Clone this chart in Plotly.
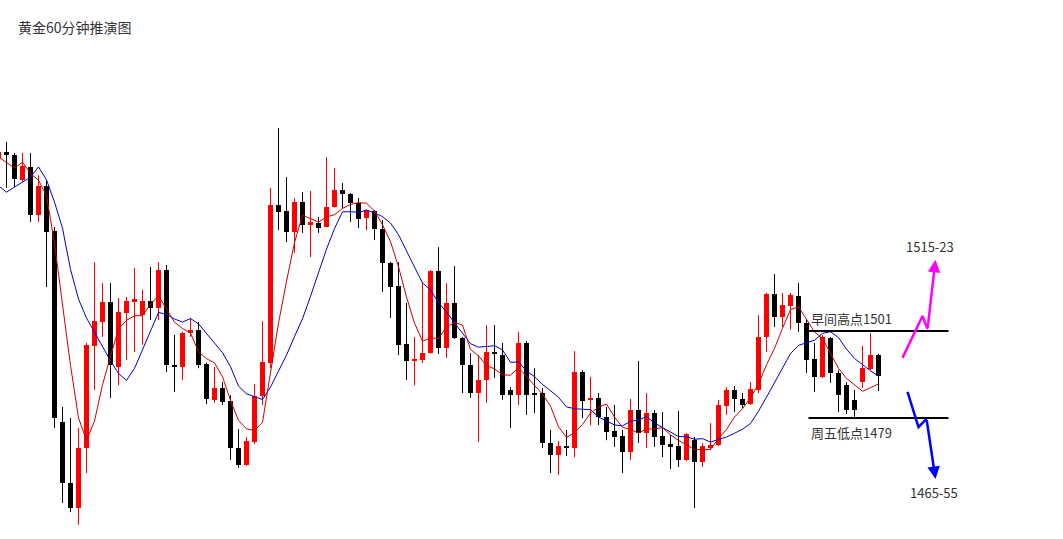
import numpy as np
import pandas as pd
import plotly.graph_objects as go

# ---------------- data (prices) ----------------
bar_index = list(range(-1, 110))

open_ = [1544.7, 1546.3, 1545.5, 1539.2, 1542.5, 1530.3, 1537.7, 1526.3, 1478.0, 1462.6,
         1456.2, 1471.4, 1497.2, 1503.3, 1508.3, 1491.9, 1505.6, 1508.3, 1505.0, 1508.6,
         1506.8, 1516.4, 1492.3, 1491.9, 1500.5, 1501.3, 1492.7, 1483.6, 1486.6, 1483.3,
         1471.4, 1467.1, 1472.9, 1484.6, 1492.9, 1532.9, 1531.3, 1526.0, 1533.6, 1528.0,
         1528.3, 1527.3, 1532.4, 1536.6, 1535.6, 1533.4, 1529.6, 1531.3, 1526.8, 1518.2,
         1512.4, 1497.7, 1493.5, 1493.7, 1495.4, 1516.2, 1496.7, 1508.1, 1499.2, 1492.4,
         1485.3, 1488.6, 1495.7, 1494.9, 1486.1, 1484.8, 1498.0, 1485.2, 1485.3, 1472.7,
         1469.6, 1471.8, 1471.4, 1490.6, 1483.6, 1484.1, 1479.3, 1475.7, 1474.5, 1470.4,
         1481.0, 1475.2, 1480.3, 1474.5, 1472.4, 1471.9, 1468.4, 1473.4, 1467.9, 1471.4,
         1472.2, 1482.0, 1486.1, 1483.8, 1482.5, 1486.1, 1499.5, 1510.4, 1504.5, 1507.3,
         1509.8, 1503.0, 1493.9, 1489.4, 1499.2, 1490.4, 1487.3, 1483.6, 1488.1, 1491.4,
         1494.9]
high = [1548.0, 1548.8, 1546.0, 1546.0, 1546.0, 1540.4, 1539.2, 1527.3, 1481.8, 1479.0,
        1476.5, 1498.0, 1518.4, 1513.1, 1513.1, 1509.3, 1509.6, 1516.9, 1511.4, 1517.2,
        1518.4, 1517.7, 1500.0, 1500.8, 1504.3, 1503.3, 1493.0, 1491.9, 1488.1, 1484.8,
        1476.2, 1474.2, 1487.6, 1503.5, 1537.2, 1552.3, 1539.9, 1534.6, 1536.1, 1536.4,
        1529.8, 1545.0, 1542.2, 1538.4, 1535.9, 1534.6, 1531.7, 1531.6, 1529.1, 1518.5,
        1518.4, 1508.1, 1499.5, 1513.4, 1516.4, 1522.2, 1513.1, 1517.4, 1499.5, 1495.4,
        1494.9, 1502.5, 1502.5, 1498.0, 1486.8, 1500.8, 1498.5, 1491.6, 1486.6, 1476.0,
        1473.2, 1476.0, 1495.9, 1491.1, 1489.4, 1485.3, 1481.8, 1482.3, 1476.0, 1483.8,
        1493.4, 1485.3, 1481.0, 1480.5, 1474.7, 1480.8, 1475.2, 1474.2, 1472.7, 1477.7,
        1483.6, 1486.8, 1487.1, 1485.3, 1488.1, 1505.0, 1510.6, 1515.4, 1510.6, 1510.6,
        1513.1, 1504.0, 1498.0, 1500.0, 1499.5, 1491.1, 1488.1, 1486.1, 1497.2, 1500.5,
        1495.2]
low = [1543.0, 1537.2, 1537.4, 1538.7, 1528.6, 1528.6, 1512.1, 1476.5, 1457.5, 1455.2,
       1452.0, 1465.1, 1486.1, 1499.5, 1484.1, 1487.3, 1493.7, 1495.7, 1497.5, 1503.8,
       1503.8, 1490.6, 1485.6, 1488.6, 1499.5, 1491.6, 1482.5, 1482.8, 1482.3, 1468.4,
       1466.4, 1466.9, 1472.4, 1482.3, 1491.6, 1526.5, 1523.5, 1520.7, 1525.8, 1519.7,
       1525.8, 1527.2, 1532.2, 1532.1, 1528.6, 1527.0, 1526.5, 1524.0, 1510.9, 1504.3,
       1494.9, 1488.6, 1487.3, 1492.9, 1495.3, 1495.2, 1494.2, 1499.0, 1485.3, 1484.1,
       1472.9, 1482.8, 1489.1, 1483.6, 1476.5, 1482.3, 1479.8, 1480.3, 1471.4, 1465.1,
       1464.6, 1469.4, 1469.1, 1479.0, 1477.2, 1477.2, 1473.4, 1471.7, 1465.1, 1468.4,
       1472.7, 1471.4, 1471.7, 1469.1, 1466.1, 1466.6, 1468.1, 1456.2, 1466.6, 1470.9,
       1471.9, 1479.8, 1480.5, 1481.5, 1482.3, 1485.3, 1495.7, 1502.0, 1502.0, 1501.3,
       1500.8, 1490.4, 1485.6, 1489.1, 1487.9, 1480.5, 1480.0, 1479.3, 1486.6, 1491.1,
       1485.8]
close = [1546.3, 1545.5, 1539.4, 1542.7, 1530.3, 1537.7, 1526.0, 1479.0, 1462.6, 1456.2,
         1471.4, 1497.5, 1503.5, 1508.3, 1492.4, 1505.8, 1508.6, 1509.1, 1508.6, 1506.8,
         1516.4, 1492.4, 1492.0, 1500.5, 1501.3, 1492.4, 1483.8, 1486.6, 1483.0, 1471.4,
         1467.1, 1473.2, 1484.6, 1493.2, 1532.9, 1531.1, 1526.0, 1533.6, 1527.8, 1528.3,
         1527.0, 1532.4, 1536.6, 1535.6, 1533.4, 1529.3, 1531.6, 1526.8, 1518.2, 1512.1,
         1497.5, 1493.4, 1493.8, 1495.4, 1516.2, 1496.7, 1508.1, 1499.2, 1492.4, 1485.3,
         1488.6, 1495.7, 1495.2, 1484.8, 1484.8, 1498.0, 1484.8, 1484.9, 1472.7, 1469.6,
         1471.9, 1471.5, 1490.6, 1483.3, 1483.9, 1479.3, 1475.5, 1474.2, 1470.4, 1481.0,
         1475.2, 1480.3, 1474.2, 1472.2, 1471.7, 1468.4, 1475.0, 1467.9, 1471.9, 1472.2,
         1482.3, 1486.1, 1483.8, 1482.3, 1486.3, 1499.5, 1510.4, 1504.5, 1507.6, 1510.1,
         1503.0, 1493.7, 1489.4, 1499.5, 1490.4, 1484.8, 1481.0, 1481.0, 1491.6, 1494.9,
         1489.6]

# moving-average values before enough bars are on screen
ma5_head = [1545.0, 1543.7, 1542.2, 1543.7]
ma10_head = [1537.7, 1536.1, 1537.4, 1538.7, 1539.9, 1542.5, 1539.2, 1533.6, 1527.0]

# key levels
level_values = [1501, 1479]
level_labels = ["早间高点1501", "周五低点1479"]
level_start = 100.25
level_end = 117.75

# forecast paths
up_path_x = [112.0, 114.5, 115.125, 116.125]
up_path_y = [1494.2, 1504.8, 1501.5, 1519.0]
up_label = "1515-23"
down_path_x = [112.625, 114.0, 115.0, 116.125]
down_path_y = [1485.6, 1476.7, 1478.8, 1463.6]
down_label = "1465-55"

title_text = "黄金60分钟推演图"

x_range = [-0.8125, 132.0625]
y_range = [1448.41, 1584.69]

# ---------------- figure ----------------
o = np.array(open_)
h = np.array(high)
l = np.array(low)
c = np.array(close)
xi = np.array(bar_index)
up = c >= o

RED = "#ff0000"
BLACK = "#000000"

fig = go.Figure()


def wick_xy(mask):
    xs, ys = [], []
    for x, hi, lo in zip(xi[mask], h[mask], l[mask]):
        xs += [x, x, None]
        ys += [lo, hi, None]
    return xs, ys


for mask, col in [(up, RED), (~up, BLACK)]:
    wx, wy = wick_xy(mask)
    fig.add_trace(go.Scatter(x=wx, y=wy, mode="lines",
                             line=dict(color=col, width=1),
                             hoverinfo="skip", showlegend=False))

for mask, col in [(up, RED), (~up, BLACK)]:
    base = np.minimum(o[mask], c[mask])
    height = np.maximum(np.abs(c[mask] - o[mask]), 0.5)
    fig.add_trace(go.Bar(x=xi[mask], y=height, base=base, width=0.68,
                         marker=dict(color=col, line=dict(width=0)),
                         showlegend=False))

ma5 = pd.Series(close).rolling(5).mean().to_numpy()
ma5[:len(ma5_head)] = ma5_head
ma10 = pd.Series(close).rolling(10).mean().to_numpy()
ma10[:len(ma10_head)] = ma10_head

fig.add_trace(go.Scatter(x=xi, y=ma10, mode="lines",
                         line=dict(color="#0000cc", width=1), showlegend=False))
fig.add_trace(go.Scatter(x=xi, y=ma5, mode="lines",
                         line=dict(color="#cc0000", width=1), showlegend=False))

label_font = dict(family="Noto Sans CJK SC", size=13, color="#333333")

for val, lab, pos in zip(level_values, level_labels, ["top", "bottom"]):
    fig.add_trace(go.Scatter(x=[level_start, level_end], y=[val, val], mode="lines",
                             line=dict(color="#000000", width=2), showlegend=False))
    fig.add_annotation(x=level_start, y=val, text=lab, showarrow=False,
                       xanchor="left", yanchor="bottom" if pos == "top" else "top",
                       yshift=1 if pos == "top" else -3, font=label_font)

for px, py, col, lab, pos in [(up_path_x, up_path_y, "#ff00ff", up_label, "top"),
                              (down_path_x, down_path_y, "#0000ff", down_label, "bottom")]:
    fig.add_trace(go.Scatter(x=px[:-1], y=py[:-1], mode="lines",
                             line=dict(color=col, width=2.5), showlegend=False))
    fig.add_annotation(x=px[-1], y=py[-1], ax=px[-2], ay=py[-2],
                       xref="x", yref="y", axref="x", ayref="y",
                       text="", showarrow=True, arrowhead=2, arrowsize=1,
                       arrowwidth=2.5, arrowcolor=col, standoff=0)
    fig.add_annotation(x=px[-1], y=py[-1], text=lab, showarrow=False,
                       xanchor="center", yanchor="bottom" if pos == "top" else "top",
                       yshift=2 if pos == "top" else -2, xshift=-6 if pos == "top" else -2,
                       font=label_font)

fig.add_annotation(xref="paper", yref="paper", x=16 / 1063, y=1 - 27 / 539,
                   text=title_text, showarrow=False, xanchor="left", yanchor="middle",
                   font=dict(family="Noto Sans CJK SC", size=14, color="#333333"))

fig.update_layout(
    width=1063, height=539,
    margin=dict(l=0, r=0, t=0, b=0),
    paper_bgcolor="white", plot_bgcolor="white",
    barmode="overlay", bargap=0,
    showlegend=False,
    xaxis=dict(range=x_range, visible=False, showgrid=False, zeroline=False),
    yaxis=dict(range=y_range, visible=False, showgrid=False, zeroline=False),
)

fig.write_html("out.html",
               config={"displayModeBar": False},
               post_script="document.body.style.margin='0';document.body.style.overflow='hidden';")
